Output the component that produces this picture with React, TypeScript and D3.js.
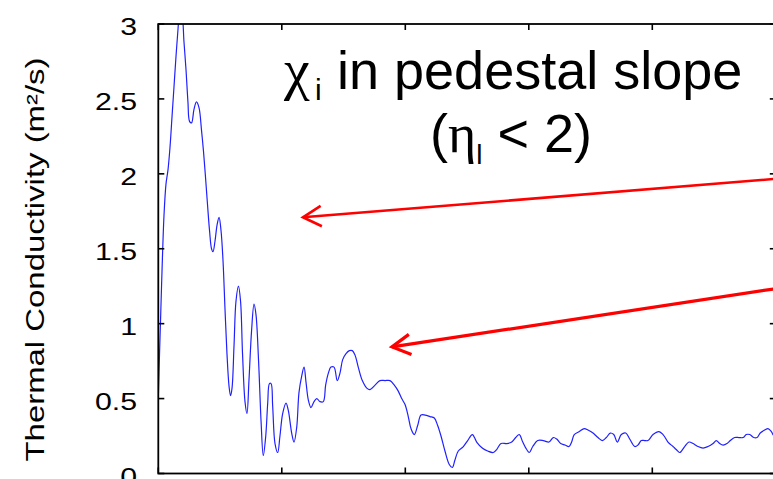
import React from "react";
import * as d3 from "d3";

// ---- data ----
const xValues = [
  0.0, 0.01, 0.018, 0.03, 0.046, 0.062, 0.079, 0.095, 0.111, 0.127, 0.143, 0.16, 0.176, 0.192, 0.208, 0.224,
  0.24, 0.253, 0.269, 0.289, 0.309, 0.33, 0.35, 0.366, 0.382, 0.398, 0.415, 0.431, 0.443, 0.459, 0.476, 0.492,
  0.508, 0.524, 0.54, 0.556, 0.573, 0.585, 0.597, 0.613, 0.629, 0.649, 0.666, 0.682, 0.702, 0.718, 0.734, 0.755,
  0.775, 0.791, 0.812, 0.832, 0.85, 0.87, 0.886, 0.9, 0.913, 0.926, 0.945, 0.967, 0.985, 1.007, 1.034, 1.053,
  1.08, 1.099, 1.121, 1.139, 1.161, 1.18, 1.196, 1.215, 1.236, 1.261, 1.283, 1.309, 1.336, 1.355, 1.377, 1.398,
  1.423, 1.449, 1.471, 1.493, 1.52, 1.547, 1.571, 1.593, 1.619, 1.652, 1.688, 1.714, 1.755, 1.795, 1.836, 1.876,
  1.911, 1.943, 1.971, 1.998, 2.024, 2.046, 2.073, 2.1, 2.127, 2.16, 2.2, 2.235, 2.262, 2.289, 2.321, 2.356,
  2.381, 2.402, 2.429, 2.47, 2.505, 2.543, 2.578, 2.623, 2.667, 2.713, 2.74, 2.775, 2.821, 2.862, 2.894, 2.923,
  2.951, 2.983, 3.004, 3.032, 3.072, 3.117, 3.164, 3.198, 3.226, 3.258, 3.293, 3.326, 3.347, 3.368, 3.409, 3.449,
  3.479, 3.52, 3.56, 3.595, 3.628, 3.66, 3.688, 3.717, 3.749, 3.785, 3.817, 3.858, 3.884, 3.911, 3.938, 3.965,
  4.006, 4.054, 4.087, 4.127, 4.168, 4.194, 4.222, 4.262, 4.297, 4.33, 4.37, 4.411, 4.451, 4.492, 4.518, 4.546,
  4.573, 4.605, 4.632, 4.667, 4.702, 4.735, 4.761, 4.789, 4.821, 4.848, 4.874, 4.91, 4.937, 4.964, 4.977, 5.0,
];
const chiValues = [
  0.5, 0.8, 1.02, 1.35, 1.72, 1.93, 2.03, 2.18, 2.38, 2.58, 2.78, 2.97, 3.12, 3.08, 2.88, 2.7,
  2.48, 2.35, 2.34, 2.43, 2.48, 2.44, 2.29, 2.15, 1.98, 1.8, 1.62, 1.5, 1.48, 1.55, 1.66, 1.71,
  1.62, 1.42, 1.1, 0.8, 0.58, 0.52, 0.57, 0.85, 1.15, 1.25, 1.15, 0.8, 0.48, 0.4, 0.62, 0.95,
  1.13, 1.06, 0.75, 0.35, 0.12, 0.25, 0.47, 0.6, 0.6, 0.45, 0.2, 0.14, 0.25, 0.4, 0.47, 0.42,
  0.27, 0.21, 0.31, 0.54, 0.65, 0.71, 0.61, 0.49, 0.44, 0.48, 0.5, 0.48, 0.48, 0.59, 0.67, 0.71,
  0.71, 0.62, 0.67, 0.76, 0.8, 0.82, 0.82, 0.79, 0.71, 0.62, 0.57, 0.56, 0.59, 0.62, 0.62, 0.62,
  0.59, 0.55, 0.5, 0.46, 0.38, 0.3, 0.26, 0.32, 0.39, 0.39, 0.38, 0.37, 0.32, 0.25, 0.15, 0.06,
  0.04, 0.09, 0.15, 0.18, 0.22, 0.26, 0.21, 0.17, 0.15, 0.14, 0.16, 0.2, 0.2, 0.21, 0.24, 0.26,
  0.21, 0.16, 0.14, 0.18, 0.22, 0.22, 0.21, 0.24, 0.23, 0.2, 0.19, 0.18, 0.21, 0.26, 0.28, 0.3,
  0.29, 0.27, 0.24, 0.22, 0.24, 0.27, 0.26, 0.21, 0.26, 0.27, 0.23, 0.18, 0.19, 0.22, 0.22, 0.22,
  0.26, 0.28, 0.26, 0.21, 0.18, 0.16, 0.14, 0.18, 0.21, 0.2, 0.18, 0.17, 0.18, 0.2, 0.22, 0.2,
  0.19, 0.2, 0.22, 0.24, 0.24, 0.24, 0.26, 0.26, 0.24, 0.24, 0.27, 0.29, 0.3, 0.28, 0.26, 0.24,
];
const xTicks = [0, 1, 2, 3, 4, 5];
const yTicks = [0, 0.5, 1, 1.5, 2, 2.5, 3];
const yTickLabels = ["0", "0.5", "1", "1.5", "2", "2.5", "3"];
const yTitle = "Thermal Conductivity (m²/s)";
// arrows: tail and tip in data units
const arrowTails = [
  [5.05, 1.97],
  [5.05, 1.24],
];
const arrowTips = [
  [1.171, 1.71],
  [1.892, 0.845],
];
const arrowWidths = [2.6, 3.2];

const W = 773;
const H = 479;
const SANS = "'Liberation Sans', Arial, Helvetica, sans-serif";
const SERIF = "'Liberation Serif', 'Times New Roman', serif";

export default function App() {
  const x = d3.scaleLinear().domain([0, 5]).range([158.3, 775.8]);
  const y = d3.scaleLinear().domain([0, 3]).range([473.5, 24]);
  const pts = xValues.map((v, i) => [v, chiValues[i]] as [number, number]);
  const line = d3
    .line<[number, number]>()
    .x((d) => x(d[0]))
    .y((d) => y(d[1]))
    .curve(d3.curveCatmullRom.alpha(0.5));

  const [x0, x1] = x.range();
  const [yb, yt] = y.range();
  const tick = 6;

  const arrows = arrowTails.map((t, i) => {
    const tx = x(t[0]), ty = y(t[1]);
    const px = x(arrowTips[i][0]), py = y(arrowTips[i][1]);
    const ang = Math.atan2(ty - py, tx - px);
    const L = 21;
    const a1 = ang - (28 * Math.PI) / 180;
    const a2 = ang + (30 * Math.PI) / 180;
    return {
      tx, ty, px, py,
      h1: [px + L * Math.cos(a1), py + L * Math.sin(a1)],
      h2: [px + L * Math.cos(a2), py + L * Math.sin(a2)],
      w: arrowWidths[i],
    };
  });

  return (
    <svg
      width={W}
      height={H}
      style={{ position: "absolute", left: 0, top: 0, background: "#fff" }}
    >
      <defs>
        <clipPath id="plot">
          <rect x={x0} y={yt} width={x1 - x0} height={yb - yt} />
        </clipPath>
      </defs>
      <rect x={0} y={0} width={W} height={H} fill="#fff" />

      {/* data line */}
      <path
        d={line(pts) || ""}
        fill="none"
        stroke="#2020ff"
        strokeWidth={1.2}
        clipPath="url(#plot)"
      />

      {/* frame */}
      <rect x={x0} y={yt} width={x1 - x0} height={yb - yt} fill="none" stroke="#000" strokeWidth={1.8} />

      {/* y ticks (left and right) */}
      {yTicks.map((t) => (
        <g key={"y" + t}>
          <line x1={x0} x2={x0 + tick} y1={y(t)} y2={y(t)} stroke="#000" strokeWidth={1.6} />
          <line x1={x1} x2={x1 - tick} y1={y(t)} y2={y(t)} stroke="#000" strokeWidth={1.6} />
        </g>
      ))}
      {/* x ticks (bottom and top) */}
      {xTicks.map((t) => (
        <g key={"x" + t}>
          <line x1={x(t)} x2={x(t)} y1={yb} y2={yb - tick} stroke="#000" strokeWidth={1.6} />
          <line x1={x(t)} x2={x(t)} y1={yt} y2={yt + tick} stroke="#000" strokeWidth={1.6} />
        </g>
      ))}

      {/* y tick labels */}
      {yTicks.map((t, i) => (
        <text
          key={"yl" + t}
          transform={`translate(137,${y(t) + 11}) scale(1.3,1)`}
          textAnchor="end"
          fontFamily={SANS}
          fontSize={23.3}
          fill="#000"
        >
          {yTickLabels[i]}
        </text>
      ))}

      {/* y axis title */}
      <text
        transform={`translate(44,${259.5}) rotate(-90)`}
        textAnchor="middle"
        fontFamily={SANS}
        fontSize={25.5}
        fill="#000"
        x={-202}
        textLength={404}
        lengthAdjust="spacingAndGlyphs"
        style={{ textAnchor: "start" }}
      >
        {yTitle}
      </text>

      {/* annotation title */}
      <text y={89} fontSize={54} fontFamily={SANS} fill="#000">
        <tspan x={284} fontFamily={SERIF} fontSize={58}>χ</tspan>
        <tspan x={315} dy={11} fontSize={30}>i</tspan>
        <tspan x={337} dy={-11}>in pedestal slope</tspan>
      </text>
      <text y={152} fontSize={54} fontFamily={SANS} fill="#000">
        <tspan x={430}>(</tspan>
        <tspan fontFamily={SERIF}>η</tspan>
        <tspan dy={12} fontSize={28}>l</tspan>
        <tspan dy={-12}> &lt; 2)</tspan>
      </text>

      {/* arrows */}
      {arrows.map((a, i) => (
        <g key={"a" + i} stroke="#ff0000" strokeWidth={a.w} fill="none" strokeLinecap="butt">
          <line x1={a.tx} y1={a.ty} x2={a.px} y2={a.py} />
          <polyline points={`${a.h1[0]},${a.h1[1]} ${a.px},${a.py} ${a.h2[0]},${a.h2[1]}`} strokeLinejoin="miter" />
        </g>
      ))}
    </svg>
  );
}
